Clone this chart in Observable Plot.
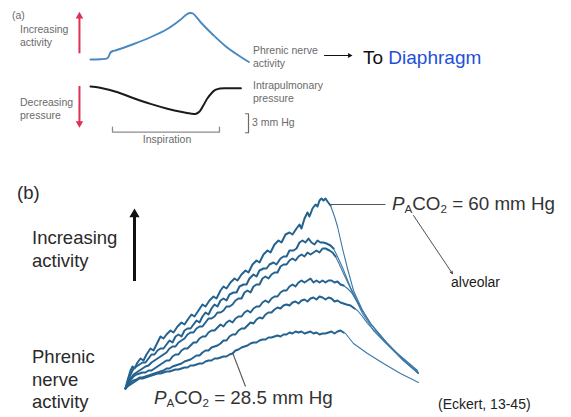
<!DOCTYPE html>
<html><head><meta charset="utf-8">
<script src="https://cdn.jsdelivr.net/npm/d3@7"></script>
<script src="https://cdn.jsdelivr.net/npm/@observablehq/plot@0.6"></script>
<style>
html,body{margin:0;padding:0;background:#fff;}
#fig{position:relative;width:571px;height:417px;overflow:hidden;background:#fff;font-family:"Liberation Sans",Arial,Helvetica,sans-serif;}
#fig svg{position:absolute;left:0;top:0;background:transparent;overflow:visible;}
.lbl{position:absolute;white-space:nowrap;}
.sa{font-size:10.5px;line-height:13px;color:#6a6a6a;}
.sb{font-size:18.5px;line-height:22.5px;color:#2a2a2a;}
.sp{font-size:18.8px;line-height:22px;color:#333;}
.sc{font-size:14px;line-height:17px;color:#1a1a1a;}
sub{font-size:0.62em;line-height:0;vertical-align:-0.3em;}
</style></head><body><div id="fig"></div>
<script>
// ---------- Panel (a): phrenic nerve activity (arbitrary units) vs time (arbitrary units)
const phrenicTrace = [[0,6],[0.6,6.5],[1.05,8.5],[1.15,13],[1.25,20],[1.4,23],[1.6,24.5],[2.7,37],[3.75,50.5],[4.8,67],[5.6,85],[6.0,96],[6.2,99],[6.4,98],[6.9,80],[7.7,54],[8.5,31],[9.4,11],[9.9,1]];
// intrapulmonary pressure (mm Hg, relative) vs time
const pressureTrace = [[0,0],[0.6,-0.2],[1.7,-0.9],[2.7,-1.85],[3.75,-2.75],[4.8,-3.5],[5.8,-4.05],[6.25,-4.25],[6.55,-4.35],[6.8,-4.0],[7.05,-3.0],[7.3,-1.9],[7.55,-1.1],[7.8,-0.55],[8.1,-0.3],[8.75,-0.28],[9.4,-0.27]];
const inspirationSpan = [1.375, 8.06];   // time units
const scaleBarMmHg = 3;

// ---------- Panel (b): phrenic nerve activity at different alveolar PCO2
const trace60 = [[0,0],[2,4],[5,9],[7,11],[9,10],[12,13],[15,15],[18,14],[21,17],[25,20],[28,19],[31,22],[35,26],[38,25],[41,27],[45,29],[48,28],[52,31],[56,33],[59,32],[63,35],[66,37],[69,36],[73,39],[77,42],[80,41],[84,44],[88,46],[91,45],[95,49],[98,51],[101,50],[105,53],[109,55],[112,54],[116,57],[120,59],[123,58],[127,62],[131,64],[134,63],[138,67],[142,69],[145,68],[149,72],[153,74],[156,73],[160,77],[164,78],[167,77],[171,80],[174,82],[176,80],[179,85],[182,88],[184,86],[187,90],[190,92],[192,91],[194,94],[196,95],[198,94],[200,95],[202,93.5],[205,91.5],[209,86],[212,81],[217,70],[222,60],[228,49],[237,39],[245,32.5],[258,24],[275,15.5],[293,7.5]];
const trace2 = [[0,0],[2,3],[5,7],[8,10],[11,11],[14,12],[17,13],[20,13],[23,15],[26,17],[29,17],[32,19],[35,20],[38,20],[41,22],[44,24],[47,23],[50,26],[53,27],[56,26],[59,29],[62,30],[65,30],[68,32],[71,34],[74,33],[77,36],[80,38],[83,37],[86,40],[89,42],[92,41],[95,44],[98,45],[101,44],[104,47],[108,48],[111,48],[114,51],[118,52],[121,52],[124,55],[128,57],[131,56],[134,59],[138,60],[141,60],[144,62],[148,63],[151,62],[155,65],[158,66],[161,66],[164,69],[168,69],[171,70],[174,73],[177,74],[180,73],[183,75],[186,73],[189,72],[192,74],[195,73],[198,73],[201,72.5],[205,71.5],[208,70],[211,67],[217,60.5],[225,50.5],[235,40.5],[245,32.5],[262,22.5],[278,14],[293,8]];
const trace3 = [[0,0],[2,2],[5,5],[8,7],[11,8],[14,9],[17,10],[20,11],[23,11.5],[26,13],[29,14],[32,15],[35,16],[38,17],[41,18],[44,20],[47,21],[50,21],[53,23],[56,24],[59,25],[62,27],[65,28],[68,28],[71,30],[74,31],[77,31],[80,33],[83,35],[86,35],[89,36],[92,38],[95,38],[98,39],[101,41],[104,41],[107,42],[110,44],[113,45],[116,45],[119,48],[122,49],[125,48],[128,51],[131,52],[134,52],[137,55],[140,56],[143,55],[146,57],[149,58],[152,58],[155,61],[158,62],[161,62],[164,64],[167,65],[170,64],[173,66],[176,67],[179,66],[182,68],[185,67],[188,68],[191,69],[194,68],[197,70],[200,70],[204,69],[207,68],[210,66],[213,63],[218,57.5],[227,48],[237,37.5],[248,29],[265,20.5],[282,12.5],[293,7.5]];
const trace4 = [[0,0],[2,2],[5,4],[8,6],[11,7],[14,7.5],[17,8],[20,8],[23,9],[26,9],[29,10],[32,11],[35,12],[38,13],[41,14],[44,14],[47,16],[50,17],[53,17],[56,19],[59,20],[62,20],[65,21.5],[68,23],[71,23],[74,25],[77,26],[80,26],[83,28],[86,29],[89,29],[92,30.5],[95,32],[98,31],[101,33],[104,34],[107,33],[110,35],[113,36],[116,36],[119,38],[122,39],[125,38],[128,40],[131,41],[134,41],[137,43],[140,44],[143,43],[146,45],[149,46],[152,46],[155,48],[158,49],[161,49],[164,51],[167,52],[170,51],[173,53],[176,54],[179,53],[182,54],[185,55],[188,53],[191,54],[194,53],[197,54],[200,53],[203,54],[206,54],[209,53],[212,53.5],[215,52],[218,51.5],[222,50],[226,48],[235,40.5],[245,32.5],[262,22.5],[278,14],[293,7.5]];
const trace5 = [[0,0],[2,1.5],[5,3],[8,4],[11,4.5],[14,5.5],[17,5.5],[20,6],[23,6.5],[26,7],[29,7.5],[32,8],[35,8.5],[38,9],[41,10],[44,10],[47,11],[50,11.5],[53,12],[56,12.5],[59,13.5],[62,14],[65,14.5],[68,15.5],[71,16.5],[74,16.5],[77,18],[80,19],[83,19],[86,20.5],[89,21],[92,21.5],[95,22.5],[98,24],[101,24],[104,26],[107,27],[110,27],[113,29],[116,30],[119,30],[122,31.5],[125,33],[128,32.5],[131,34.5],[134,35.5],[137,35],[140,37],[143,38],[146,38],[149,39.5],[152,40.5],[155,40],[158,41.5],[161,42],[164,41.5],[167,43],[170,43.5],[173,42.5],[176,44],[179,44.5],[182,43.5],[185,45],[188,45.5],[191,44.5],[194,46],[197,45.5],[200,44.5],[203,45.5],[206,45],[209,43.5],[212,44],[215,43],[218,42.5],[221,42],[225,41.5],[229,40],[232,39],[237,36],[242,32.5],[255,25.5],[272,17.5],[292,9]];
const trace285 = [[0,0],[2,1],[5,2],[8,3],[11,4],[14,5],[17,5],[20,5.5],[23,6],[26,6.5],[29,7],[32,7.5],[35,7.5],[38,8],[41,8.5],[44,8.5],[47,9],[50,9.5],[53,9.5],[56,10],[59,10.5],[62,10.5],[65,11.5],[68,11.5],[71,12],[74,12.5],[77,12.5],[80,13.5],[83,14],[86,14],[89,15],[92,15],[95,15.5],[98,16],[101,16],[104,17],[107,17.5],[110,19],[113,19.5],[116,20.5],[119,21],[122,21.5],[125,22.5],[128,23],[131,23],[134,24],[137,24.5],[140,24.5],[143,25.5],[146,25.5],[149,26],[152,26.5],[155,26],[158,27],[161,27],[164,28],[167,27.5],[170,28.5],[173,28],[176,28.5],[179,27.5],[182,28],[185,28.5],[188,27.5],[191,28],[194,27],[197,27.5],[200,27.5],[203,28],[206,28.5],[209,27.5],[212,28.5],[215,29],[218,28],[220,27.5],[224,25],[228,22.5],[242,17.5],[258,12.5],[275,7.5],[293,3]];
const fallStart = [205, 208, 210, 218, 229, 218];   // time where each trace stops rising

// ---------- Text
const panelALabels = ["(a)", "Increasing<br>activity", "Decreasing<br>pressure", "Phrenic nerve<br>activity", "Intrapulmonary<br>pressure", "3 mm Hg", "Inspiration"];
const panelBLabels = ["(b)", "Increasing<br>activity", "Phrenic<br>nerve<br>activity"];
const co2Labels = ["60", "28.5"];   // mm Hg
const notes = ["alveolar", "(Eckert, 13-45)"];

const RED = "#de2f55", BLUE_A = "#4a89c0", BLUE_RISE = "#24628f", BLUE_FALL = "#3b78a7";
const fig = document.getElementById("fig");
const base = {width: 571, height: 417, margin: 0, style: {background: "transparent", overflow: "visible"}};

// Plot 1: phrenic activity (a)
fig.appendChild(Plot.plot({...base,
  x: {domain: [0, 10], range: [90, 250], axis: null},
  y: {domain: [0, 100], range: [62, 12], axis: null},
  marks: [
    Plot.line(phrenicTrace, {x: d => d[0], y: d => d[1], stroke: BLUE_A, strokeWidth: 1.9, curve: "catmull-rom"}),
    Plot.ruleX([-0.69], {y1: 17.4, y2: 93, stroke: RED, strokeWidth: 2}),
    Plot.dot([[-0.69, 92.6]], {x: d => d[0], y: d => d[1], symbol: "triangle", r: 2.8, fill: RED, stroke: null}),
    Plot.ruleY([14], {x1: 14.63, x2: 16.2, stroke: "#111", strokeWidth: 1}),
    Plot.dot([[16.19, 14]], {x: d => d[0], y: d => d[1], symbol: "triangle", r: 1.9, rotate: 90, fill: "#111", stroke: null})
  ]}));

// Plot 2: intrapulmonary pressure (a)
const bracket = [[inspirationSpan[0], -6.42], [inspirationSpan[0], -7.2], [inspirationSpan[1], -7.2], [inspirationSpan[1], -6.42]];
const scaleBar = [[9.69, -4.3], [9.875, -4.3], [9.875, -4.3 - scaleBarMmHg], [9.69, -4.3 - scaleBarMmHg]];
fig.appendChild(Plot.plot({...base,
  x: {domain: [0, 10], range: [90, 250], axis: null},
  y: {domain: [0, -6], range: [86, 124], axis: null},
  marks: [
    Plot.line(pressureTrace, {x: d => d[0], y: d => d[1], stroke: "#1b1b1b", strokeWidth: 2, curve: "catmull-rom"}),
    Plot.ruleX([-0.69], {y1: 0, y2: -5.9, stroke: RED, strokeWidth: 2}),
    Plot.dot([[-0.69, -5.84]], {x: d => d[0], y: d => d[1], symbol: "triangle", r: 2.8, rotate: 180, fill: RED, stroke: null}),
    Plot.line(bracket, {x: d => d[0], y: d => d[1], stroke: "#8c8c8c", strokeWidth: 1.3}),
    Plot.line(scaleBar, {x: d => d[0], y: d => d[1], stroke: "#6a6a6a", strokeWidth: 1.2})
  ]}));

// Plot 3: panel (b) traces
const traces = [trace60, trace2, trace3, trace4, trace5, trace285];
const rows = traces.flatMap((tr, i) => tr.map(([t, a]) => ({curve: i, t, a, rise: t <= fallStart[i], fall: t >= fallStart[i]})));
const leaders = [[205, 92, 260, 92], [107, 18, 120, 1]];
fig.appendChild(Plot.plot({...base,
  x: {domain: [0, 300], range: [125, 425], axis: null},
  y: {domain: [0, 95], range: [388, 198], axis: null},
  marks: [
    Plot.line(rows.filter(d => d.fall), {x: "t", y: "a", z: "curve", stroke: BLUE_FALL, strokeWidth: 1.1}),
    Plot.line(rows.filter(d => d.rise), {x: "t", y: "a", z: "curve", stroke: BLUE_RISE, strokeWidth: 2, strokeLinejoin: "round"}),
    Plot.link(leaders, {x1: d => d[0], y1: d => d[1], x2: d => d[2], y2: d => d[3], stroke: "#555", strokeWidth: 1.1}),
    Plot.ruleX([9], {y1: 53.5, y2: 86, stroke: "#111", strokeWidth: 3}),
    Plot.dot([[9, 87.1]], {x: d => d[0], y: d => d[1], symbol: "triangle", r: 3.8, fill: "#111", stroke: null}),
    Plot.arrow([[288, 86.5, 327, 57.4]], {x1: d => d[0], y1: d => d[1], x2: d => d[2], y2: d => d[3], stroke: "#222", strokeWidth: 0.8, headLength: 5, headAngle: 50})
  ]}));

// Text labels
function lbl(html, cls, left, top, extra = "") {
  const d = document.createElement("div");
  d.className = "lbl " + cls;
  d.style.cssText = `left:${left}px;top:${top}px;${extra}`;
  d.innerHTML = html;
  fig.appendChild(d);
}
lbl(panelALabels[0], "sa", 12, 9);
lbl(panelALabels[1], "sa", 20, 23);
lbl(panelALabels[2], "sa", 20, 96);
lbl(panelALabels[3], "sa", 253, 43.5);
lbl(panelALabels[4], "sa", 253, 78.5);
lbl(panelALabels[5], "sa", 252, 115.5);
lbl(panelALabels[6], "sa", 167, 132.5, "transform:translateX(-50%);");
lbl(`<span style="color:#111">To</span> <span style="color:#1f4fd8">Diaphragm</span>`, "", 363, 45.7, "font-size:19px;line-height:23px;");
lbl(panelBLabels[0], "sb", 17, 182);
lbl(panelBLabels[1], "sb", 32, 227);
lbl(panelBLabels[2], "sb", 32, 346);
lbl(`<i>P</i><sub>A</sub>CO<sub>2</sub> = ${co2Labels[0]} mm Hg`, "sp", 392, 193);
lbl(`<i>P</i><sub>A</sub>CO<sub>2</sub> = ${co2Labels[1]} mm Hg`, "sp", 154, 387);
lbl(notes[0], "sc", 451, 273.5);
lbl(notes[1], "sc", 438, 395.6, "color:#222;");
</script></body></html>
